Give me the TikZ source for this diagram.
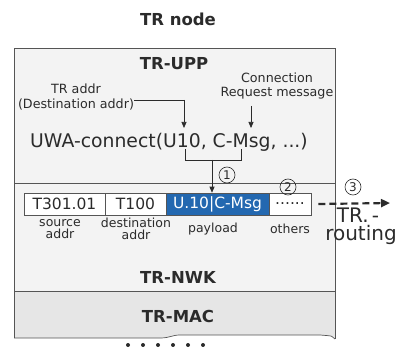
\documentclass[tikz,border=0pt]{standalone}
\usepackage{fontspec}
\setmainfont{DejaVu Sans}
\usetikzlibrary{arrows.meta}
\definecolor{txt}{HTML}{2B2B2B}
\definecolor{upfill}{HTML}{F3F3F3}
\definecolor{macfill}{HTML}{E6E6E6}
\definecolor{edge}{HTML}{555555}
\definecolor{payblue}{HTML}{2368B0}
\tikzset{
  lbl/.style={inner sep=0pt, text=txt, font=\fontsize{12.5}{12.5}\selectfont, align=center},
  layer/.style={inner sep=0pt, text=txt, font=\bfseries\fontsize{16.5}{18}\selectfont},
  cell/.style={draw=edge, line width=0.6pt, fill=white, minimum height=22pt, inner sep=0pt, text=txt, font=\fontsize{15.5}{16}\selectfont},
  num/.style={circle, draw=txt, line width=0.6pt, minimum size=16pt, inner sep=0pt, font=\fontsize{12}{12}\selectfont, text=txt},
  conn/.style={draw=txt, line width=0.7pt},
  arr/.style={conn, -{Triangle[length=6pt,width=5pt]}},
}
\begin{document}
\begin{tikzpicture}[x=1pt,y=-1pt]
\useasboundingbox (0,0) rectangle (401,347);
% layers
\fill[upfill] (14,48) rectangle (335,291);
\fill[macfill] (14,291) -- (335,291) -- (335,339) .. controls (333,336) .. (320,335) -- (180,335) .. controls (172,335) and (170,338) .. (160,338) -- (14,338) -- cycle;
\draw[edge, line width=0.7pt] (14,338) -- (14,48) -- (335,48) -- (335,339);
\draw[edge, line width=0.7pt] (14,338) -- (160,338) .. controls (170,338) and (172,335) .. (180,335) -- (320,335) .. controls (333,336) .. (335,339);
\draw[edge, line width=0.7pt] (14,183) -- (335,183);
\draw[edge, line width=0.7pt] (14,291) -- (335,291);
% titles
\node[layer] (title) at (178,19) {TR node};
\node[layer] (upp) at (174,64) {TR-UPP};
\node[layer] (nwk) at (178,277) {TR-NWK};
\node[layer] (mac) at (178,316) {TR-MAC};
% UPP content
\node[lbl, font=\fontsize{12.7}{14.5}\selectfont] (traddr) at (76,97) {TR addr\\(Destination addr)};
\node[lbl, font=\fontsize{12.7}{14.5}\selectfont] (creq) at (277,86) {Connection\\Request message};
\node[inner sep=0pt, text=txt, font=\fontsize{18.8}{20}\selectfont] (uwa) at (169,142) {UWA-connect(U10, C-Msg, ...)};
\coordinate (a1) at (184,100);
\coordinate (a1e) at (184,128);
\coordinate (a2s) at (251,106);
\coordinate (a2e) at (251,128);
\draw[conn] (traddr.east |- a1) -- (a1);
\draw[arr] (a1) -- (a1e);
\draw[arr] (a2s) -- (a2e);
\coordinate (b1) at (185,149);
\coordinate (b2) at (185,160);
\coordinate (b3) at (241,160);
\coordinate (b4) at (241,149);
\coordinate (bm) at (212,160);
\draw[conn] (b1) -- (b2) -- (b3) -- (b4);
% packet
\node[cell, minimum width=81pt] (src) at (64.5,204) {T301.01};
\node[cell, minimum width=61pt] (dst) at (135.5,204) {T100};
\node[cell, minimum width=103pt, fill=payblue, text=white] (pay) at (217.5,204) {U.10|C-Msg};
\node[cell, minimum width=42pt] (oth) at (290,204) {......};
\draw[arr] (bm) -- (pay.north -| bm);
\node[num] (n1) at (227,175) {1};
\node[num] (n2) at (288,187) {2};
\node[num] (n3) at (353,187) {3};
\node[lbl] (lsrc) at (60,229) {source\\addr};
\node[lbl] (ldst) at (136,229) {destination\\addr};
\node[lbl] (lpay) at (213,229) {payload};
\node[lbl] (loth) at (290,229) {others};
\coordinate (rt) at (390,203);
\draw[draw=txt, line width=2.2pt, dash pattern=on 7pt off 4pt, -{Triangle[length=9pt,width=8pt]}] (oth.east) ++(7,0) -- (rt);
\node[inner sep=0pt, text=txt, font=\fontsize{20}{20}\selectfont] (tr) at (358,215) {TR.\,-};
\node[inner sep=0pt, text=txt, font=\fontsize{20}{20}\selectfont] (routing) at (361,235) {routing};
% dots below
\foreach \i in {0,...,5} \fill[txt] (128+15*\i,345) circle (2pt);
\end{tikzpicture}
\end{document}
